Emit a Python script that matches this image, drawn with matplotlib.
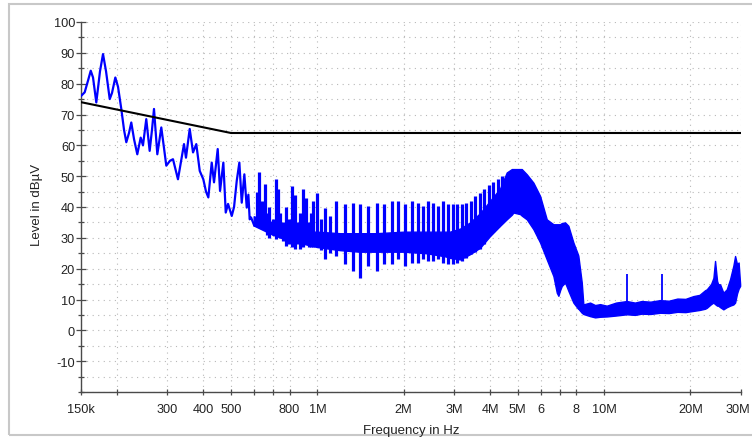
import matplotlib
matplotlib.use("Agg")
import matplotlib.pyplot as plt
from matplotlib.ticker import FixedLocator, FixedFormatter, NullLocator
import matplotlib.patches as mpatches
import matplotlib.transforms as mtransforms

plt.rcParams['font.family'] = ['Liberation Sans', 'DejaVu Sans']
plt.rcParams['axes.unicode_minus'] = False

# ---- data ----
# low-frequency part of the measured trace (kHz, dBuV)
trace_f_khz = [150, 154.5, 158.7, 162.2, 165.2, 169.6, 174.7, 179.0, 183.4, 188.9,
               192.4, 197.6, 201.9, 207.3, 211.9, 215.8, 220.5, 224.6, 229.6, 235.7,
               242.2, 246.7, 253.3, 260.3, 265.2, 269.5, 276.8, 285.8, 297.5, 306.4,
               313.9, 326.7, 342.9, 348.4, 359.0, 368.7, 378.5, 389.1, 400.4, 409.2,
               416.9, 428.4, 436.4, 449.5, 458.0, 470.3, 479.4, 488.4, 503.1, 512.5,
               523.7, 534.8, 545.1, 556.7, 567.5, 575.0, 581.0, 587.5, 603.2, 612.0]
trace_db = [76.0, 77.2, 81.0, 84.2, 82.0, 73.9, 84.0, 89.6, 84.0, 75.0,
            77.0, 82.0, 79.0, 71.8, 65.0, 61.0, 64.0, 67.4, 62.0, 57.1,
            62.5, 60.0, 68.5, 58.2, 65.0, 71.8, 57.1, 65.8, 53.4, 55.0,
            55.5, 49.0, 60.4, 56.0, 65.3, 57.7, 60.4, 51.7, 49.0, 45.0,
            43.1, 54.4, 48.0, 58.8, 45.2, 54.4, 38.2, 41.0, 37.1, 40.0,
            48.5, 54.4, 41.4, 50.6, 39.8, 44.0, 36.0, 36.6, 33.9, 35.0]

# comb of spectral lines, 0.6 MHz .. 4.4 MHz: frequency, top and bottom of each line
comb_f_mhz = [0.616, 0.628, 0.642, 0.657, 0.668, 0.680, 0.700, 0.716, 0.730, 0.742,
              0.758, 0.775, 0.795, 0.814, 0.836, 0.852, 0.870, 0.894, 0.913, 0.932,
              0.950, 0.968, 0.995, 1.030, 1.064, 1.110, 1.159, 1.249,
              1.329, 1.409, 1.506, 1.611, 1.713, 1.818, 1.917, 2.022, 2.134, 2.250,
              2.343, 2.439, 2.538, 2.641, 2.749, 2.856, 2.961, 3.070, 3.183, 3.300,
              3.421, 3.547, 3.678, 3.813, 3.954, 4.100, 4.251, 4.407]
comb_top_db = [45.0, 51.2, 42.0, 47.4, 38.0, 40.0, 36.0, 49.0, 46.0, 38.0,
               35.0, 40.0, 36.0, 46.9, 44.0, 35.0, 38.0, 45.8, 43.0, 35.0,
               38.0, 42.0, 44.7, 36.0, 39.8, 37.0, 42.0, 40.9,
               41.4, 40.9, 40.4, 41.4, 40.9, 42.0, 42.0, 40.9, 42.0, 41.4,
               40.4, 42.0, 41.4, 40.4, 42.0, 41.0, 41.0, 41.0, 41.0, 41.4,
               42.0, 43.5, 44.5, 46.0, 47.0, 48.0, 49.0, 50.0]
comb_bottom_db = [34.0, 36.0, 33.0, 33.0, 31.0, 30.0, 31.0, 29.5, 32.0, 30.0,
                  29.0, 27.4, 28.0, 27.0, 26.3, 28.0, 26.5, 27.0, 28.5, 27.0,
                  27.0, 27.0, 27.4, 26.0, 23.0, 25.0, 24.1, 21.4,
                  19.3, 17.1, 20.9, 19.3, 21.4, 21.4, 23.0, 21.0, 22.0, 22.0,
                  23.0, 22.5, 22.5, 23.0, 22.0, 21.4, 21.5, 22.0, 22.5, 23.5,
                  24.7, 25.5, 26.5, 28.0, 30.5, 32.0, 33.5, 35.0]

# dense body of the trace, 0.6 MHz .. 30 MHz: lower and upper edge (MHz, dBuV)
band_f_mhz = [0.60, 0.70, 0.80, 0.90, 1.0, 1.2, 1.4, 1.6, 2.0,
              2.4, 2.79, 2.90, 3.146, 3.408, 3.693, 4.002, 4.337, 4.575, 4.764,
              4.826, 5.093, 5.161, 5.374, 5.666, 5.978, 6.308, 6.654, 6.838, 6.926,
              7.021, 7.117, 7.308, 7.504, 7.811, 8.111, 8.131, 8.355, 8.463, 8.931,
              9.3, 9.675, 10.21, 11.0, 11.99, 12.8, 13.5, 14.5, 15.66, 16.8,
              18.0, 19.2, 20.46, 21.5, 22.48, 22.79, 23.59, 24.04, 24.36, 24.76,
              24.96, 25.37, 26.04, 26.76, 27.48, 28.22, 28.61, 29.07, 29.43, 29.79]
band_lo = [34.0, 31.0, 29.0, 28.0, 27.0, 26.0, 25.5, 25.5, 25.5,
           25.0, 24.0, 23.5, 23.0, 24.7, 26.8, 30.6, 33.9, 36.0, 37.5,
           38.2, 37.7, 37.2, 36.0, 32.8, 28.5, 23.0, 17.6, 12.2, 11.2,
           13.0, 14.4, 15.5, 12.8, 9.0, 7.0, 7.0, 5.7, 5.3, 4.6,
           4.2, 4.4, 4.5, 4.8, 5.2, 5.0, 5.4, 5.3, 5.7, 5.6,
           6.0, 5.9, 6.3, 6.6, 7.0, 7.3, 8.5, 9.0, 8.5, 8.0,
           8.0, 7.5, 6.8, 7.5, 8.0, 8.4, 9.0, 12.0, 13.5, 14.4]
band_hi = [37.0, 35.0, 33.0, 32.0, 32.0, 31.5, 31.5, 31.5, 32.0,
           32.0, 32.0, 32.0, 33.0, 35.0, 38.0, 42.0, 46.0, 51.2, 52.3,
           52.3, 52.3, 52.3, 50.6, 47.9, 43.6, 36.0, 34.4, 34.4, 34.4,
           34.4, 34.8, 35.0, 33.9, 28.5, 24.5, 24.1, 15.5, 8.4, 9.0,
           8.2, 8.5, 8.0, 9.0, 9.5, 9.0, 9.5, 9.3, 9.8, 9.6,
           10.3, 10.2, 11.1, 11.5, 13.0, 13.3, 15.0, 17.0, 22.5, 16.0,
           15.0, 14.9, 12.2, 13.3, 16.6, 21.0, 24.1, 21.4, 22.0, 15.0]

# isolated narrow spurs (MHz, base and top in dBuV)
spur_f_mhz = [11.99, 15.88]
spur_base_db = [9.5, 9.8]
spur_top_db = [18.2, 18.2]

# limit line
limit_f_khz = [150, 500, 30000]
limit_db = [74, 64, 64]

xtick_hz = [150e3, 200e3, 300e3, 400e3, 500e3, 600e3, 700e3, 800e3, 1e6,
            2e6, 3e6, 4e6, 5e6, 6e6, 7e6, 8e6, 10e6, 20e6, 30e6]
xtick_labels = ["150k", "", "300", "400", "500", "", "", "800", "1M",
                "2M", "3M", "4M", "5M", "6", "", "8", "10M", "20M", "30M"]
ytick_major = list(range(-10, 101, 10))
ytick_minor = list(range(-20, 101, 5))

# ---- figure ----
W, H = 752, 439
fig = plt.figure(figsize=(W / 100, H / 100), dpi=100)
ax = fig.add_axes([81 / W, 1 - 393 / H, 660 / W, 370 / H])

blue = '#0000ff'
ax.plot([f * 1e3 for f in trace_f_khz], trace_db, color=blue, lw=1.6, zorder=3)
ax.vlines([f * 1e6 for f in comb_f_mhz], comb_bottom_db, comb_top_db,
          color=blue, lw=2.3, zorder=3)
ax.fill_between([f * 1e6 for f in band_f_mhz], band_lo, band_hi,
                color=blue, lw=1.0, edgecolor=blue, zorder=3)
ax.vlines([f * 1e6 for f in spur_f_mhz], spur_base_db, spur_top_db,
          color=blue, lw=1.3, zorder=3)
ax.plot([f * 1e3 for f in limit_f_khz], limit_db, color='black', lw=1.5, zorder=5)

ax.set_xscale('log')
ax.set_xlim(150e3, 30e6)
ax.set_ylim(-20, 100)

ax.xaxis.set_major_locator(FixedLocator(xtick_hz))
ax.xaxis.set_major_formatter(FixedFormatter(xtick_labels))
ax.xaxis.set_minor_locator(NullLocator())
ax.yaxis.set_major_locator(FixedLocator(ytick_major))
ax.yaxis.set_minor_locator(FixedLocator(ytick_minor))

spine_c = '#4a4a4a'
for s in ['top', 'right']:
    ax.spines[s].set_visible(False)
for s in ['left', 'bottom']:
    ax.spines[s].set_color(spine_c)
    ax.spines[s].set_linewidth(1.0)

ax.tick_params(axis='x', which='major', direction='inout', length=5, width=0.9,
               color=spine_c, labelsize=9.2, pad=5.5, labelcolor='#222222')
ax.tick_params(axis='y', which='major', direction='inout', length=6.5, width=0.9,
               color=spine_c, labelsize=9.2, pad=1, labelcolor='#222222')
ax.tick_params(axis='y', which='minor', direction='inout', length=5, width=0.9,
               color=spine_c)

# keep the last x label inside the canvas
fig.canvas.draw()
last = ax.get_xticklabels()[-1]
last.set_transform(last.get_transform() +
                   mtransforms.ScaledTranslation(-3 / 100, 0, fig.dpi_scale_trans))

grid_kw = dict(color='#b8b8b8', linestyle=(0, (1, 4)), linewidth=0.8)
ax.grid(True, which='major', axis='x', **grid_kw)
ax.grid(True, which='both', axis='y', **grid_kw)
ax.set_axisbelow(True)

fig.text(37 / W, 1 - 205 / H, 'Level in dBµV', rotation=90, ha='center', va='center',
         fontsize=9.5, color='#222222')
fig.text(411 / W, 1 - 431 / H, 'Frequency in Hz', ha='center', va='center',
         fontsize=9.5, color='#222222')

fig.add_artist(mpatches.Rectangle((9 / W, 3 / H), 1.0, 431 / H, transform=fig.transFigure,
                                  fill=False, edgecolor='#c8c8c8', lw=1.5))

fig.savefig('out.png', dpi=100)
